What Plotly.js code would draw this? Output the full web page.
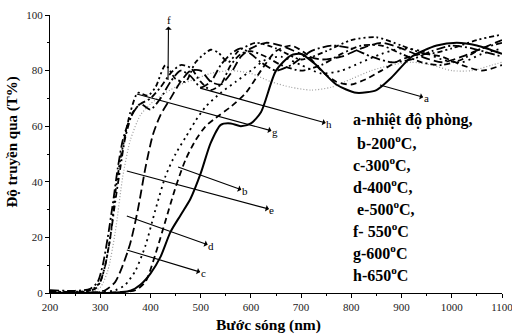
<!DOCTYPE html>
<html><head><meta charset="utf-8">
<script src="https://cdn.plot.ly/plotly-3.0.1.min.js"></script>
<style>html,body{margin:0;padding:0;background:#fff}#c{width:512px;height:336px}</style>
</head><body><div id="c"></div>
<script>
// Curve data (wavelength nm, transmittance %)
const xA=[200,300,340,360,380,400,420,440,460,480,500,520,540,560,580,600,620,650,680,700,730,770,810,850,880,920,970,1010,1050,1100];
const yA=[0,0,0.3,0.8,3,7,13,22,28,34,43,54,60.5,61,60,61,65,80,85.5,86,82,75,72,73,77.5,85,89,90,89,86];
const xB=[200,340,370,390,410,430,450,470,490,510,530,560,590,620,650,680,710,740,770,800,830,860,900,940,980,1020,1060,1100];
const yB=[0,0.3,1,4,14,26,38,48,55,60,63,67,72,80,87,89,86,80,76,75,77,80,84,86,85,82,80,82];
const xC=[200,300,330,350,370,390,410,430,450,470,490,510,540,570,600,630,660,700,740,780,820,860,900,940,980,1020,1060,1100];
const yC=[0,0.3,1,3,8,17,30,42,50,56,62,67,72,76,80,84,85,82,79,80,83,86,88,87,84,83,86,88];
const xD=[200,290,310,330,345,360,375,390,405,420,440,460,480,500,520,540,560,580,600,630,660,700,740,780,820,860,900,940,980,1020,1060,1100];
const yD=[0,0.3,1,4,10,18,30,45,57,64,70,76,80,80,76,75,79,85,88,90,89,86,84,85,88,90,88,85,83,85,88,91];
const xE=[200,280,300,315,330,345,360,380,400,430,460,490,520,560,600,640,680,720,760,800,840,880,920,960,1000,1040,1080,1100];
const yE=[0.3,0.5,2,8,22,42,55,64,68,72,75,77,79,80,79,76,74,73,74,77,80,82,83,82,80,80,82,83];
const xF=[200,270,290,300,310,320,330,340,350,365,380,400,420,440,460,480,500,520,540,560,580,600,630,660,700,740,780,820,860,900,940,980,1020,1060,1100];
const yF=[0.5,0.5,1.5,4,10,20,33,45,56,65,68,70,74,79,82,81,76,73,75,82,86,87,85,82,80,82,86,89,89,86,83,82,84,88,90];
const xG=[200,260,280,290,300,310,320,330,340,350,360,375,395,410,430,450,470,490,520,535,555,575,610,650,700,750,800,850,900,950,1000,1050,1100];
const yG=[0.5,0.5,1,2,4,10,20,36,48,57,65,72,71,74,82,77,76,83,87.5,86.5,83,87,90,88,84,87,91,92,89,86,88,91,93];
const xH=[200,250,280,295,305,315,325,335,345,360,380,400,420,440,460,480,500,520,540,560,580,600,620,650,680,720,760,800,840,880,920,960,1000,1040,1080,1100];
const yH=[1,0.8,1.5,4,10,20,32,45,55,63,68,66,70,76,80,78,74,76,82,86,88,86,83,80,82,87,89,88,85,83,84,87,89,88,86,85];

const xTicks=[200,300,400,500,600,700,800,900,1000,1100];
const yTicks=[0,20,40,60,80,100];

// Legend lines
const legendLines=["a-nhiệt độ phòng,"," b-200<sup>o</sup>C,","c-300<sup>o</sup>C,","d-400<sup>o</sup>C,"," e-500<sup>o</sup>C,","f- 550<sup>o</sup>C","g-600<sup>o</sup>C","h-650<sup>o</sup>C"];
const legendY=[62.2,54.3,46.4,38.5,30.6,22.7,14.7,6.8];

// Arrow labels: tail (x0,y0), label position (lx,ly); arrowhead sits next to the label
const arrLabel=["f","g","h","b","e","d","c","a"];
const arrX0=[435,373,499,455,353,353,353,857];
const arrY0=[76.6,71.6,73.7,45.3,43.9,27.7,15.5,74.8];
const arrLX=[436,648,756,588,642,521,505,949];
const arrLY=[98.2,58,60.8,36.7,29.9,16.9,7.2,70.1];

const serif='Liberation Serif, Times New Roman, serif';
function tr(x,y,dash,color,w){return {x:x,y:y,type:'scatter',mode:'lines',line:{color:color||'#000',width:w||1.6,dash:dash,shape:'spline',smoothing:0.7},hoverinfo:'skip'};}
const data=[
 tr(xE,yE,'1px,2px','#9a9a9a',1.2),
 tr(xC,yC,'2px,4px','#000',1.8),
 tr(xB,yB,'6px,4px','#000',1.8),
 tr(xD,yD,'9px,4px','#000',1.8),
 tr(xF,yF,'6px,3px,2px,3px','#000',1.8),
 tr(xH,yH,'9px,3px,2px,3px','#000',1.8),
 tr(xG,yG,'5px,3px,2px,3px,2px,3px','#000',1.8),
 tr(xA,yA,'solid','#000',2)
];
const ann=[];
for(let i=0;i<arrLabel.length;i++){
  ann.push({x:arrX0[i],y:arrY0[i],ax:arrLX[i],ay:arrLY[i],xref:'x',yref:'y',axref:'x',ayref:'y',text:arrLabel[i],showarrow:true,arrowside:'start',arrowhead:2,arrowsize:1,arrowwidth:1.1,arrowcolor:'#000',standoff:0,startstandoff:0,font:{family:serif,size:11,color:'#000'},borderpad:0});
}
for(let i=0;i<legendLines.length;i++){
  ann.push({x:799,y:legendY[i],xref:'x',yref:'y',text:'<b>'+legendLines[i]+'</b>',showarrow:false,xanchor:'left',yanchor:'middle',font:{family:serif,size:16,color:'#000'}});
}
ann.push({xref:'paper',yref:'paper',x:0.4845,y:-0.115,text:'<b>Bước sóng (nm)</b>',showarrow:false,xanchor:'center',yanchor:'middle',font:{family:serif,size:15.5,color:'#000'}});
ann.push({xref:'paper',yref:'paper',x:-0.0819,y:0.545,text:'<b>Độ truyền qua (T%)</b>',textangle:-90,showarrow:false,xanchor:'center',yanchor:'middle',font:{family:serif,size:15,color:'#000'}});
const layout={
 width:512,height:336,margin:{l:50,r:10,t:15,b:43},
 font:{family:serif},
 paper_bgcolor:'#fff',plot_bgcolor:'#fff',showlegend:false,
 xaxis:{range:[200,1100],tickvals:xTicks,ticks:'outside',ticklen:4,tickwidth:1,tickcolor:'#000',showline:true,linecolor:'#000',linewidth:1,showgrid:false,zeroline:false,
   minor:{dtick:50,ticks:'outside',ticklen:2,tickcolor:'#000'},ticklabeloverflow:'allow',
   tickfont:{family:serif,size:11,color:'#222'}},
 yaxis:{range:[0,100],tickvals:yTicks,ticks:'outside',ticklen:4,tickwidth:1,tickcolor:'#000',showline:true,linecolor:'#000',linewidth:1,showgrid:false,zeroline:false,
   minor:{dtick:10,ticks:'outside',ticklen:2,tickcolor:'#000'},
   tickfont:{family:serif,size:11,color:'#222'}},
 annotations:ann
};
Plotly.newPlot('c',data,layout,{staticPlot:true,displayModeBar:false});
</script></body></html>
